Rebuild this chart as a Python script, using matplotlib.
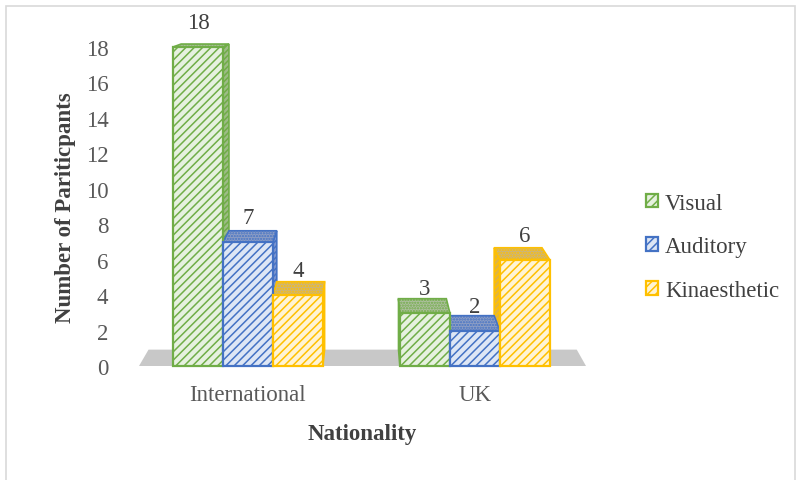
"""3D-style grouped bar chart: learning style by nationality"""

import matplotlib
matplotlib.use('Agg')
import matplotlib.pyplot as plt
from matplotlib.patches import Polygon, Rectangle

# Data
CATEGORIES = ['International', 'UK']
SERIES = ['Visual', 'Auditory', 'Kinaesthetic']
VISUAL = [18, 3]
AUDITORY = [7, 2]
KINAESTHETIC = [4, 6]
Y_TICKS = list(range(0, 19, 2))

# Styles: edge colour, pale front fill, darker fill for top and side faces
EDGE = ['#70ad47', '#4472c4', '#ffc000']
FRONT = ['#e6f1df', '#dde6f5', '#fff4d4']
TOP = ['#aebf9f', '#8f9fc4', '#c9b480']
SIDE = ['#9dbb86', '#7f97cf', '#e0b440']

BAR_WIDTH = 0.22
# Perspective: back faces shrink towards a vanishing point (data coords)
VANISH = (0.52, 22.0)
DEPTH = 0.042
XLIM = (-0.48, 1.49)

plt.rcParams['font.family'] = ['Liberation Serif', 'DejaVu Serif']
plt.rcParams['hatch.linewidth'] = 1.1

TEXT = '#595959'
FS = 16.5


def back(x, y):
    """Точка задней грани: сдвиг к точке схода"""
    return x + DEPTH * (VANISH[0] - x), y + DEPTH * (VANISH[1] - y)


fig = plt.figure(figsize=(8.03, 4.81), dpi=100)
fig.patches.append(Rectangle((6 / 803, -0.1), 789 / 803, 1.1 - 7 / 481,
                             transform=fig.transFigure, fill=False,
                             edgecolor='#d9d9d9', linewidth=1.2))
ax = fig.add_axes([139 / 803, (481 - 367) / 481, 447 / 803, 319 / 481])
ax.set_xlim(*XLIM)
ax.set_ylim(0, 18)

# floor
fx0, fy0 = back(XLIM[0], 0)
fx1, fy1 = back(XLIM[1], 0)
ax.add_patch(Polygon([(XLIM[0], 0), (XLIM[1], 0), (fx1, fy1), (fx0, fy0)],
                     closed=True, facecolor='#c8c8c8', edgecolor='none',
                     zorder=1, clip_on=False))

values = [VISUAL, AUDITORY, KINAESTHETIC]
offsets = [-BAR_WIDTH, 0, BAR_WIDTH]
handles = []
for s, (vals, off) in enumerate(zip(values, offsets)):
    xs = [i + off for i in range(len(CATEGORIES))]
    for x, v in zip(xs, vals):
        x0, x1 = x - BAR_WIDTH / 2, x + BAR_WIDTH / 2
        bx0, bv = back(x0, v)
        bx1, _ = back(x1, v)
        _, b0 = back(x0, 0)
        # side faces
        if bx1 > x1:
            ax.add_patch(Polygon([(x1, 0), (x1, v), (bx1, bv), (bx1, b0)],
                                 facecolor=SIDE[s], edgecolor=EDGE[s], hatch='//////',
                                 linewidth=1.2, zorder=2, clip_on=False))
        if bx0 < x0:
            ax.add_patch(Polygon([(x0, 0), (x0, v), (bx0, bv), (bx0, b0)],
                                 facecolor=SIDE[s], edgecolor=EDGE[s], hatch='//////',
                                 linewidth=1.2, zorder=2, clip_on=False))
        # top face
        ax.add_patch(Polygon([(x0, v), (x1, v), (bx1, bv), (bx0, bv)],
                             facecolor=TOP[s], edgecolor=EDGE[s], hatch='......',
                             linewidth=1.2, zorder=3, clip_on=False))
        ax.annotate(str(v), ((x0 + x1) / 2, v), xytext=(0, 17.5),
                    textcoords='offset points', ha='center', va='center',
                    fontsize=FS, color='#404040', annotation_clip=False)
    bars = ax.bar(xs, vals, width=BAR_WIDTH, facecolor=FRONT[s], edgecolor=EDGE[s],
                  hatch='////', linewidth=1.6, zorder=4, label=SERIES[s], clip_on=False)
    handles.append(bars)

for sp in ax.spines.values():
    sp.set_visible(False)
ax.set_yticks(Y_TICKS)
ax.set_xticks(range(len(CATEGORIES)))
ax.set_xticklabels(CATEGORIES)
ax.tick_params(axis='y', length=0, pad=22, labelsize=FS, labelcolor=TEXT)
ax.tick_params(axis='x', length=0, pad=13, labelsize=FS, labelcolor=TEXT)
ax.set_xlabel('Nationality', fontsize=FS, fontweight='bold', color='#404040', labelpad=13)
ax.set_ylabel('Number of Pariticpants', fontsize=FS, fontweight='bold', color='#404040',
              labelpad=7)
ax.patch.set_visible(False)

leg = ax.legend(handles=handles, loc='center left', bbox_to_anchor=(625 / 803, 1 - 248 / 481),
                bbox_transform=fig.transFigure, frameon=False, fontsize=FS,
                handlelength=0.55, handleheight=0.55, handletextpad=0.3, labelspacing=1.0)
for t in leg.get_texts():
    t.set_color('#404040')

fig.savefig('out.png', dpi=100, facecolor='white')
